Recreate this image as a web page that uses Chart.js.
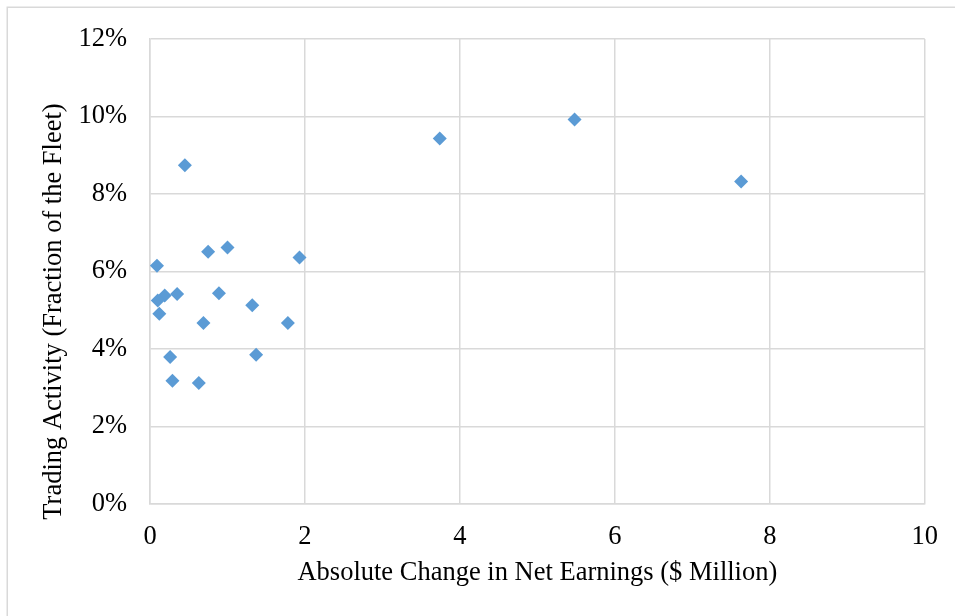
<!DOCTYPE html>
<html>
<head>
<meta charset="utf-8">
<script src="https://cdn.jsdelivr.net/npm/chart.js@4"></script>
<style>
  html, body { margin: 0; padding: 0; background: #fff; }
  #wrap { position: relative; width: 955px; height: 616px; }
</style>
</head>
<body>
<div id="wrap"><canvas id="c"></canvas></div>
<script>
// Absolute change in net earnings ($ Million)
const earningsChange = [0.45, 0.75, 1.00, 0.09, 1.93, 0.19, 0.35, 0.10, 0.89, 1.32, 0.12, 0.69, 1.78, 0.26, 1.37, 0.29, 0.63, 3.74, 5.48, 7.63];
// Trading activity (% of the fleet)
const tradingActivity = [8.74, 6.51, 6.62, 6.15, 6.36, 5.38, 5.42, 5.25, 5.44, 5.13, 4.91, 4.67, 4.67, 3.79, 3.85, 3.18, 3.12, 9.43, 9.92, 8.32];
const xTitle = 'Absolute Change in Net Earnings ($ Million)';
const yTitle = 'Trading Activity (Fraction of the Fleet)';

const points = earningsChange.map((x, i) => ({ x: x, y: tradingActivity[i] }));
const FONT = 'Liberation Serif, "Times New Roman", serif';
const GRID = '#d9d9d9';

const framePlugin = {
  id: 'frame',
  beforeDraw(chart) {
    const ctx = chart.ctx;
    ctx.save();
    ctx.strokeStyle = GRID;
    ctx.lineWidth = 1.5;
    ctx.strokeRect(7.25, 7.25, 2000, 2000);
    ctx.restore();
  },
  afterDraw(chart) {
    const ctx = chart.ctx;
    ctx.save();
    ctx.translate(54, 311.5);
    ctx.rotate(-Math.PI / 2);
    ctx.fillStyle = '#000';
    ctx.font = '26.5px ' + FONT;
    ctx.textAlign = 'center';
    ctx.textBaseline = 'middle';
    ctx.fillText(yTitle, 0, 0);
    ctx.restore();
  }
};

new Chart(document.getElementById('c'), {
  type: 'scatter',
  data: {
    datasets: [{
      data: points,
      pointStyle: 'rectRot',
      pointRadius: 7,
      pointHoverRadius: 7,
      backgroundColor: '#5B9BD5',
      borderWidth: 0
    }]
  },
  options: {
    responsive: true,
    maintainAspectRatio: false,
    animation: false,
    layout: { padding: { top: 36, right: 30, bottom: 0, left: 0 } },
    plugins: { legend: { display: false }, tooltip: { enabled: false } },
    scales: {
      x: {
        type: 'linear',
        min: 0, max: 10,
        ticks: { stepSize: 2, color: '#000', padding: 17, font: { family: FONT, size: 26.5 } },
        grid: { color: GRID, lineWidth: 1.5, drawTicks: false },
        border: { color: GRID, width: 1.5 },
        title: { display: true, text: xTitle, color: '#000', font: { family: FONT, size: 26.5 }, padding: { top: 0, bottom: 27 } },
        afterFit(s) { s.height = 112; }
      },
      y: {
        type: 'linear',
        min: 0, max: 12,
        ticks: { stepSize: 2, color: '#000', padding: 23, font: { family: FONT, size: 26.5 }, callback: v => v + '%' },
        grid: { color: GRID, lineWidth: 1.5, drawTicks: false },
        border: { color: GRID, width: 1.5 },
        afterFit(s) { s.width = 150; }
      }
    }
  },
  plugins: [framePlugin]
});
</script>
</body>
</html>
